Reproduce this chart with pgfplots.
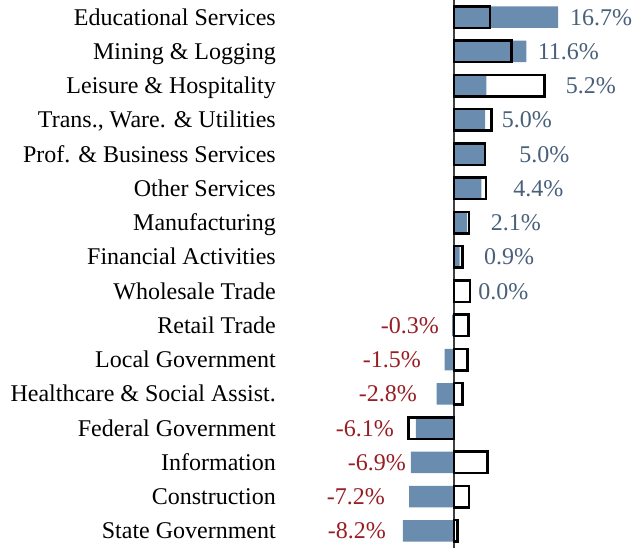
\documentclass[border=0pt]{standalone}
\usepackage{fontspec}
\setmainfont{Liberation Serif}
\usepackage{pgfplots}
\pgfplotsset{compat=1.18}
\definecolor{barblue}{RGB}{106,140,174}
\definecolor{posc}{RGB}{72,96,122}
\definecolor{negc}{RGB}{150,30,36}
\newcommand{\lblfont}{\fontsize{24}{28}\selectfont}
\begin{document}
\begin{tikzpicture}
\begin{axis}[name=ax, scale only axis, width=342pt, height=548pt,
  xmin=-26.28, xmax=28.53, ymin=-0.5, ymax=15.5, y dir=reverse, clip=false,
  axis line style={draw=none}, xtick=\empty, ytick={0,...,15},
  yticklabels={Educational Services, Mining \& Logging, Leisure \& Hospitality,
    {Trans., Ware. \& Utilities}, Prof. \& Business Services, Other Services,
    Manufacturing, Financial Activities, Wholesale Trade, Retail Trade,
    Local Government, Healthcare \& Social Assist., Federal Government,
    Information, Construction, State Government},
  major tick length=0pt,
  yticklabel style={anchor=base east, inner sep=0pt, xshift=-14pt, yshift=-8pt, font=\lblfont},
  extra x ticks={0}, extra x tick labels={},
  extra x tick style={grid=major, major grid style={draw=black!75, line width=1.2pt}},
  bar width=21.6pt, bar shift=0pt]
\addplot[xbar, fill=barblue, draw=none] coordinates {
(16.7,0) (11.6,1) (5.2,2) (5.0,3) (5.0,4) (4.4,5) (2.1,6) (0.9,7) (0.0,8)
(-0.3,9) (-1.5,10) (-2.8,11) (-6.1,12) (-6.9,13) (-7.2,14) (-8.2,15)};
\addplot[xbar, fill=none, draw=black, line width=2.5pt] coordinates {
(5.8,0) (9.2,1) (14.5,2) (6.0,3) (5.0,4) (5.1,5) (2.4,6) (1.35,7) (2.6,8)
(2.35,9) (2.15,10) (1.4,11) (-7.3,12) (5.4,13) (2.4,14) (0.55,15)};
\addplot[draw=none, mark=none, nodes near coords, point meta=explicit symbolic,
  nodes near coords style={anchor=base west, inner sep=0pt, yshift=-8pt, text=posc, font=\lblfont}]
coordinates {
(18.59,0) [16.7\%] (13.41,1) [11.6\%] (17.90,2) [5.2\%] (7.64,3) [5.0\%]
(10.46,4) [5.0\%] (9.50,5) [4.4\%] (5.88,6) [2.1\%] (4.81,7) [0.9\%] (3.89,8) [0.0\%]};
\addplot[draw=none, mark=none, nodes near coords, point meta=explicit symbolic,
  nodes near coords style={anchor=base east, inner sep=0pt, yshift=-8pt, text=negc, font=\lblfont}]
coordinates {
(-2.40,9) [-0.3\%] (-5.29,10) [-1.5\%] (-5.93,11) [-2.8\%] (-9.62,12) [-6.1\%]
(-7.69,13) [-6.9\%] (-11.06,14) [-7.2\%] (-10.90,15) [-8.2\%]};
\end{axis}
\pgfresetboundingbox
\path (ax.south west) ++(-290pt,0pt) rectangle (ax.north east);
\end{tikzpicture}
\end{document}
